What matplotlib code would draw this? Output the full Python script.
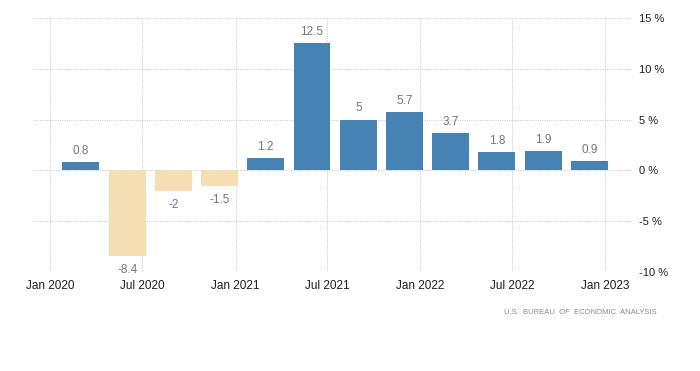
import datetime as dt
import matplotlib
matplotlib.use("Agg")
import matplotlib.pyplot as plt
import matplotlib.dates as mdates

plt.rcParams["font.family"] = ["Liberation Sans", "DejaVu Sans"]

# quarterly values (annualised GDP growth, %)
quarters = ["2020Q1", "2020Q2", "2020Q3", "2020Q4", "2021Q1", "2021Q2",
            "2021Q3", "2021Q4", "2022Q1", "2022Q2", "2022Q3", "2022Q4"]
values = [0.8, -8.4, -2, -1.5, 1.2, 12.5, 5, 5.7, 3.7, 1.8, 1.9, 0.9]
labels = ["0.8", "-8.4", "-2", "-1.5", "1.2", "12.5", "5", "5.7", "3.7", "1.8", "1.9", "0.9"]
tick_dates = [dt.date(2020, 1, 1), dt.date(2020, 7, 1), dt.date(2021, 1, 1),
              dt.date(2021, 7, 1), dt.date(2022, 1, 1), dt.date(2022, 7, 1),
              dt.date(2023, 1, 1)]
tick_labels = ["Jan 2020", "Jul 2020", "Jan 2021", "Jul 2021",
               "Jan 2022", "Jul 2022", "Jan 2023"]
y_ticks = [-10, -5, 0, 5, 10, 15]

POS = "#4682b4"
NEG = "#f5deb3"

# bars sit on the last month of each quarter
centers = []
for q in quarters:
    year, n = int(q[:4]), int(q[-1])
    centers.append(dt.date(year, 3 * n, 1))

fig = plt.figure(figsize=(7, 3.71), dpi=100)
ax = fig.add_axes([33 / 700, 99 / 371, 599 / 700, 254 / 371])

colors = [POS if v >= 0 else NEG for v in values]
ax.bar(centers, values, width=73, color=colors, zorder=3)

for c, v, lab in zip(centers, values, labels):
    off = 8 if v >= 0 else -10
    ax.annotate(lab, (mdates.date2num(c), v), xytext=(0, off),
                textcoords="offset points", ha="center", va="center",
                fontsize=8.5, color="#747484")

ax.set_xlim(dt.date(2019, 11, 28), dt.date(2023, 2, 23))
ax.set_ylim(-10, 15)
ax.set_xticks(tick_dates)
ax.set_xticklabels(tick_labels)
ax.set_yticks(y_ticks)
ax.set_yticklabels([f"{t} %" for t in y_ticks])

ax.yaxis.tick_right()
ax.tick_params(axis="both", length=0, colors="#1a1a2a")
ax.tick_params(axis="x", labelsize=8.5, pad=6)
ax.tick_params(axis="y", labelsize=8, pad=5)
for s in ax.spines.values():
    s.set_visible(False)
ax.grid(True, linestyle=(0, (1, 1)), color="#d0d0d0", linewidth=0.8, zorder=0)

fig.text(657 / 700, 1 - 313 / 371, "U.S.  BUREAU  OF  ECONOMIC  ANALYSIS",
         ha="right", va="center", fontsize=5.5, color="#8a8a8a")

fig.savefig("out.png", dpi=100)
